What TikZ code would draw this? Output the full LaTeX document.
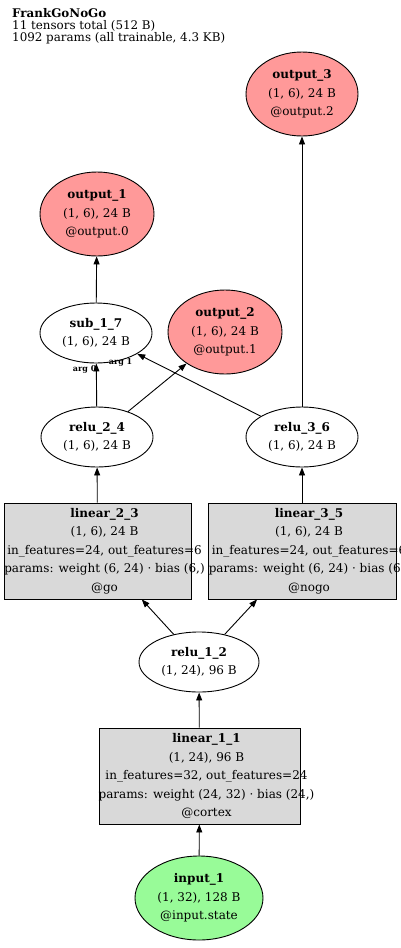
\documentclass[tikz,border=0pt]{standalone}
\usepackage{fontspec}
\setmainfont{DejaVu Serif}
\usepackage{xcolor}
\usepackage{tikz}
\usetikzlibrary{shapes.geometric, arrows.meta}

\definecolor{outred}{HTML}{FF9999}
\definecolor{ingreen}{HTML}{98FB98}
\definecolor{boxgray}{HTML}{D9D9D9}

\newcommand{\graphfont}{\fontsize{12}{18.5}\selectfont}
\newcommand{\headfont}{\fontsize{11.9}{12}\selectfont}
\newcommand{\tagfont}{\fontsize{8}{9}\selectfont\bfseries}

\begin{document}
\begin{tikzpicture}[x=1pt, y=-1pt, >={Triangle[length=8pt,width=6pt]},
    tensor/.style={ellipse, draw, line width=0.9pt, inner sep=0pt, align=center, font=\graphfont, fill=white},
    outnode/.style={tensor, fill=outred},
    innode/.style={tensor, fill=ingreen},
    layerbox/.style={rectangle, draw, line width=0.9pt, fill=boxgray, inner sep=0pt, minimum height=96pt},
    layertext/.style={align=center, font=\graphfont, inner sep=0pt},
    argtag/.style={font=\tagfont, inner sep=0.5pt},
    flow/.style={->, line width=0.9pt}]

    % =================================================================
    % 1. PAGE FRAME
    % =================================================================
    \useasboundingbox (0,0) rectangle (400,948);
    \clip (0,0) rectangle (400,948);

    % =================================================================
    % 2. HEADER
    % =================================================================
    \node[font=\headfont\bfseries, anchor=base west, inner sep=0pt] (head_name) at (12,17) {FrankGoNoGo};
    \node[font=\headfont, anchor=base west, inner sep=0pt] (head_tensors) at (12,29) {11 tensors total (512 B)};
    \node[font=\headfont, anchor=base west, inner sep=0pt] (head_params) at (12,41) {1092 params (all trainable, 4.3 KB)};

    % =================================================================
    % 3. TENSOR NODES (ELLIPSES)
    % =================================================================
    \node[outnode, minimum width=112pt, minimum height=84pt] (output_3) at (302,94)
        {\textbf{output\_3}\\(1, 6), 24 B\\@output.2};
    \node[outnode, minimum width=114pt, minimum height=84pt] (output_1) at (97,214)
        {\textbf{output\_1}\\(1, 6), 24 B\\@output.0};
    \node[outnode, minimum width=114pt, minimum height=84pt] (output_2) at (225,332)
        {\textbf{output\_2}\\(1, 6), 24 B\\@output.1};
    \node[tensor, minimum width=112pt, minimum height=60pt] (sub_1_7) at (96,333)
        {\textbf{sub\_1\_7}\\(1, 6), 24 B};
    \node[tensor, minimum width=112pt, minimum height=60pt] (relu_2_4) at (97,437)
        {\textbf{relu\_2\_4}\\(1, 6), 24 B};
    \node[tensor, minimum width=112pt, minimum height=60pt] (relu_3_6) at (302,437)
        {\textbf{relu\_3\_6}\\(1, 6), 24 B};
    \node[tensor, minimum width=120pt, minimum height=60pt] (relu_1_2) at (199,662)
        {\textbf{relu\_1\_2}\\(1, 24), 96 B};
    \node[innode, minimum width=128pt, minimum height=84pt] (input_1) at (199,898)
        {\textbf{input\_1}\\(1, 32), 128 B\\@input.state};

    % =================================================================
    % 4. LAYER BOXES (TEXT RUNS PAST THE BOX)
    % =================================================================
    \node[layerbox, minimum width=187pt] (linear_2_3) at (97.5,551) {};
    \node[layerbox, minimum width=188pt] (linear_3_5) at (302,551) {};
    \node[layerbox, minimum width=201pt] (linear_1_1) at (199.5,776) {};

    \node[layertext] (linear_2_3_txt) at ([xshift=7pt]linear_2_3.center)
        {\textbf{linear\_2\_3}\\(1, 6), 24 B\\in\_features=24, out\_features=6\\params: weight (6, 24) · bias (6,)\\@go};
    \node[layertext] (linear_3_5_txt) at ([xshift=7pt]linear_3_5.center)
        {\textbf{linear\_3\_5}\\(1, 6), 24 B\\in\_features=24, out\_features=6\\params: weight (6, 24) · bias (6,)\\@nogo};
    \node[layertext] (linear_1_1_txt) at ([xshift=7pt]linear_1_1.center)
        {\textbf{linear\_1\_1}\\(1, 24), 96 B\\in\_features=32, out\_features=24\\params: weight (24, 32) · bias (24,)\\@cortex};

    % =================================================================
    % 5. CONNECTORS
    % =================================================================
    \draw[flow] (input_1) -- (linear_1_1);
    \draw[flow] (linear_1_1) -- (relu_1_2);
    \draw[flow] (relu_1_2) -- (linear_2_3);
    \draw[flow] (relu_1_2) -- (linear_3_5);
    \draw[flow] (linear_2_3) -- (relu_2_4);
    \draw[flow] (linear_3_5) -- (relu_3_6);
    \draw[flow] (relu_2_4) -- (output_2);
    \draw[flow] (relu_3_6) -- (output_3);
    \draw[flow] (sub_1_7) -- (output_1);

    % inputs of the subtraction, with their argument tags
    \draw[flow] (relu_2_4) -- (sub_1_7)
        node[argtag, pos=1, anchor=north east, xshift=1pt, yshift=-1pt] (arg_0) {arg 0};
    \draw[flow] (relu_3_6) -- (sub_1_7)
        node[argtag, pos=1, anchor=east, xshift=-4pt, yshift=-9pt] (arg_1) {arg 1};

\end{tikzpicture}
\end{document}
